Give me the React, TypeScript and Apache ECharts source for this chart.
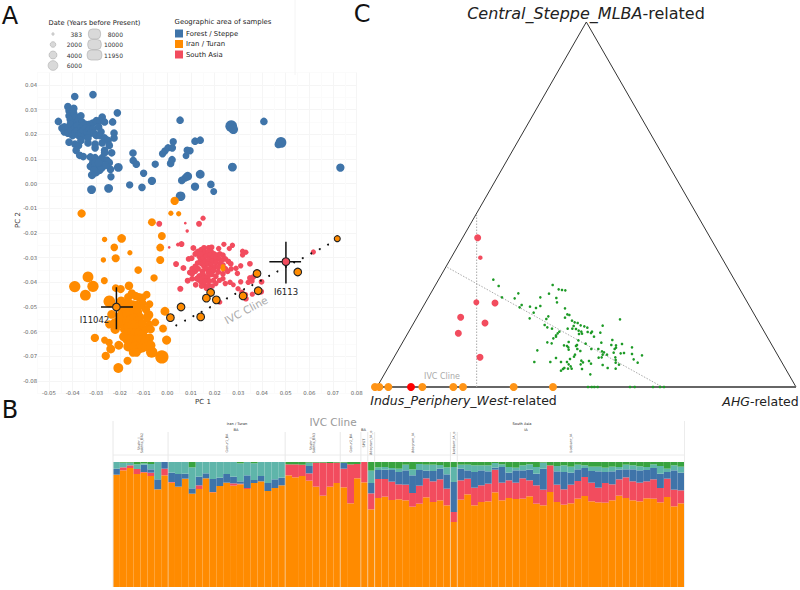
import React, { useEffect, useRef } from "react";
import * as echarts from "echarts";

type P = [number, number, number];

// Panel A: PC 1, PC 2, date (years before present)
const forestSteppe: P[] = [
  [-0.0391,0.0353,3000],[-0.0314,0.0361,3000],[-0.042,0.0312,3000],[-0.046,0.0252,3000],[-0.0211,0.0287,3000],[-0.0231,0.025,3000],
  [0.0054,0.0257,3000],[0.027,0.0233,7000],[0.0279,0.022,4500],[0.0408,0.0252,3000],[0.048,0.0167,6000],[0.0469,0.0159,3000],
  [0.0731,0.0065,3500],[0.0275,0.0067,4000],[0.0139,0.0038,4000],[0.0086,0.003,4000],[0.0075,0.0023,3000],[0.0061,0.0013,3000],
  [0.0117,-0.0012,3500],[0.0184,-0.0003,3000],[0.0196,-0.0032,2500],[0.0056,-0.0051,4800],[-0.0065,0.0011,3500],[-0.0107,-0.0015,3000],
  [-0.0159,-0.0005,2800],[-0.01,0.0042,2800],[-0.0248,-0.0019,4000],[-0.032,-0.0024,4000],[-0.0238,0.0028,2800],[-0.0207,0.0066,4000],
  [-0.0145,0.0124,3000],[-0.0144,0.0094,3000],[-0.0131,0.0079,3000],[-0.0051,0.0079,2800],[0.0014,0.0082,3000],[0.002,0.0097,3000],
  [-0.002,0.0121,2800],[-0.001,0.0132,2800],[0.0003,0.0145,2800],[0.0021,0.0145,3000],[0.0025,0.017,2800],[0.0117,0.0172,3000],
  [0.0139,0.0176,3000],[0.0084,0.0135,2800],[0.0096,0.0133,2800],[0.0079,0.0113,2400],
  [-0.0415,0.0295,3000],[-0.0415,0.0275,3000],[-0.041,0.026,3000],[-0.0395,0.0305,3000],[-0.0395,0.0285,3000],[-0.0385,0.027,3000],
  [-0.04,0.0245,3000],[-0.0385,0.0245,3000],[-0.0375,0.026,3000],[-0.0365,0.0275,3000],[-0.036,0.025,3000],[-0.0345,0.024,3000],
  [-0.033,0.024,3000],[-0.0315,0.0245,3000],[-0.03,0.0255,3000],[-0.0275,0.027,3000],[-0.0285,0.0255,3000],[-0.0265,0.025,3000],
  [-0.029,0.023,3000],[-0.028,0.021,3000],[-0.0445,0.0225,3000],[-0.0435,0.021,3000],[-0.0435,0.023,3000],[-0.042,0.0225,3000],
  [-0.042,0.0205,3000],[-0.041,0.024,3000],[-0.0405,0.0215,3000],[-0.04,0.0195,3000],[-0.039,0.0225,3000],[-0.039,0.0205,3000],
  [-0.038,0.0235,3000],[-0.038,0.0215,3000],[-0.0375,0.0195,3000],[-0.0365,0.0225,3000],[-0.0365,0.0205,3000],[-0.0355,0.0235,3000],
  [-0.0355,0.0215,3000],[-0.035,0.0195,3000],[-0.0345,0.0225,3000],[-0.034,0.021,3000],[-0.033,0.022,3000],[-0.0325,0.0205,3000],
  [-0.0315,0.022,3000],[-0.031,0.0205,3000],[-0.03,0.0195,3000],[-0.0285,0.0195,3000],[-0.0265,0.0185,3000],[-0.0225,0.0205,3000],
  [-0.0225,0.0185,3000],[-0.025,0.0175,3000],[-0.0415,0.0168,3000],[-0.039,0.016,3000],[-0.0375,0.0155,3000],[-0.0365,0.0175,3000],
  [-0.0335,0.0165,3000],[-0.0335,0.0185,3000],[-0.0305,0.016,3000],[-0.0305,0.0145,3000],[-0.0275,0.0165,3000],[-0.0245,0.0155,3000],
  [-0.0235,0.0125,3000],[-0.0265,0.0135,3000],[-0.0385,0.0135,3000],[-0.037,0.0115,3000],[-0.0355,0.011,3000],
  [-0.0325,0.0108,3000],[-0.0315,0.0085,3000],[-0.0305,0.0105,3000],[-0.0295,0.0095,3000],[-0.028,0.0095,3000],[-0.0275,0.0105,3000],
  [-0.0265,0.0125,3000],[-0.0255,0.0095,3000],[-0.0245,0.0085,3000],[-0.0325,0.007,3000],[-0.0315,0.0065,3000],[-0.0305,0.0075,3000],
  [-0.0295,0.006,3000],[-0.0285,0.0075,3000],[-0.0275,0.0065,3000],[-0.0285,0.0055,3000],[-0.03,0.0045,3000],[-0.031,0.0055,3000],
  [-0.0318,0.0035,3500],[-0.0305,0.0085,3000],[-0.029,0.0085,3000],[-0.024,0.0058,3000],[-0.025,0.0085,3000],[-0.026,0.0075,3000],
];

const iranTuran: P[] = [
  [0.0031,-0.007,3500],[-0.0362,-0.0121,3500],[0.0015,-0.012,1400],[0.0048,-0.0122,1400],[-0.0065,-0.0156,3200],[-0.0023,-0.0212,3200],
  [-0.0193,-0.0222,3800],[-0.0265,-0.0226,1500],[-0.0224,-0.0258,3000],[-0.003,-0.0259,3200],[-0.0158,-0.028,1400],[-0.0218,-0.0302,3300],
  [-0.027,-0.0309,1500],[-0.003,-0.0309,3300],[-0.0123,-0.035,3000],[-0.0335,-0.0378,6000],[-0.0056,-0.0382,2800],[-0.0266,-0.0393,2500],
  [-0.0391,-0.0417,6500],[-0.0314,-0.0416,6500],[-0.0346,-0.0452,6000],[-0.0162,-0.0414,3700],[-0.0197,-0.0427,3500],[-0.0218,-0.0423,3000],
  [-0.0245,-0.0477,7000],[-0.0087,-0.045,3000],[-0.0075,-0.0488,3000],[-0.001,-0.0517,4000],[-0.0079,-0.0532,4500],[-0.0051,-0.0562,3200],
  [-0.0076,-0.057,3000],[-0.0018,-0.0587,3200],[-0.0003,-0.0634,4200],[-0.0306,-0.0625,3500],[-0.0265,-0.0634,2500],[-0.0246,-0.0644,2800],
  [-0.026,-0.0698,3500],[-0.0239,-0.067,4000],[-0.0207,-0.0747,5000],[-0.0168,-0.0718,3300],[-0.0023,-0.0702,9000],[-0.0066,-0.0683,6500],
  [-0.0165,-0.046,3500],[-0.015,-0.0445,3500],[-0.0135,-0.0455,3500],[-0.012,-0.046,3500],[-0.0105,-0.0462,3500],[-0.018,-0.049,4500],
  [-0.0165,-0.048,3500],[-0.019,-0.052,4500],[-0.0175,-0.051,4500],[-0.016,-0.05,4500],[-0.0145,-0.049,4000],[-0.02,-0.054,4500],
  [-0.0185,-0.054,4500],[-0.017,-0.053,4500],[-0.0155,-0.052,4500],[-0.014,-0.0515,4500],[-0.0125,-0.052,4000],[-0.0115,-0.054,3500],
  [-0.0235,-0.053,4000],[-0.0245,-0.057,3500],[-0.022,-0.0565,5000],[-0.0205,-0.057,4500],[-0.0185,-0.0565,4500],[-0.017,-0.0555,4500],
  [-0.0155,-0.055,4500],[-0.014,-0.0545,4500],[-0.0125,-0.0555,4000],[-0.022,-0.059,4500],[-0.018,-0.059,4500],[-0.0165,-0.058,4500],
  [-0.015,-0.0575,4500],[-0.0135,-0.0575,4500],[-0.012,-0.058,4500],[-0.0105,-0.059,4000],[-0.0165,-0.0605,5000],[-0.015,-0.0605,4500],
  [-0.0135,-0.0605,4500],[-0.012,-0.0605,4500],[-0.0105,-0.061,4500],[-0.009,-0.059,3500],[-0.0185,-0.062,4000],[-0.017,-0.063,5000],
  [-0.0155,-0.063,4500],[-0.014,-0.0635,5000],[-0.0125,-0.0635,5000],[-0.011,-0.0635,4500],[-0.0095,-0.0635,3500],[-0.0205,-0.0655,4000],
  [-0.0165,-0.066,5000],[-0.015,-0.0665,4500],[-0.0135,-0.066,5000],[-0.012,-0.067,4500],[-0.0105,-0.0665,4500],[-0.009,-0.066,4500],
  [-0.0145,-0.0685,3500],[-0.013,-0.0685,3500],[0.0235,-0.0345,1400],[0.0235,-0.0335,1000],
  [-0.0105,-0.0485,3500],[-0.009,-0.051,3500],[-0.0085,-0.0545,3500],[-0.007,-0.059,3500],[-0.0075,-0.0625,4000],[-0.007,-0.0655,4500],
  [-0.0195,-0.0475,4000],[-0.0105,-0.0565,3500],[-0.0115,-0.0495,3500],[-0.013,-0.049,3500],
];

const southAsia: P[] = [
  [-0.0034,-0.0163,1800],[0.0151,-0.014,1400],[0.0134,-0.0163,1800],[0.0084,-0.0192,600],[0.0008,-0.0258,383],[0.0076,-0.016,383],
  [0.006,-0.0245,1800],[0.0045,-0.0247,800],[0.011,-0.0261,1800],[0.0037,-0.0326,1800],[0.0068,-0.0342,1800],[0.0086,-0.0393,1800],
  [0.0055,-0.0426,1900],[0.0617,-0.0277,1400],[0.0217,-0.0263,1500],[0.0239,-0.0246,1400],[0.0275,-0.025,1500],[0.0262,-0.0263,1400],
  [0.0318,-0.0274,1500],[0.0332,-0.0278,1400],[0.0318,-0.0289,1500],[0.0349,-0.0325,1700],[0.031,-0.0333,1500],[0.029,-0.0343,1500],
  [0.0296,-0.0364,1500],[0.031,-0.0398,1500],[0.0279,-0.041,1200],[0.0299,-0.0426,1500],[0.0315,-0.044,1500],[0.033,-0.045,1500],
  [0.0332,-0.0466,1700],[0.0359,-0.0448,1400],[0.0349,-0.0382,1700],[0.0363,-0.0378,1700],[0.0342,-0.04,1500],[0.0398,-0.0398,1700],
  [0.0396,-0.0438,1900],[0.0222,-0.048,1300],[0.0357,-0.0395,1700],[0.0245,-0.0405,1500],[0.0265,-0.04,1500],
  [0.0095,-0.036,1700],[0.0105,-0.0345,1700],[0.0118,-0.0355,1700],[0.013,-0.0345,1700],[0.0118,-0.0335,1700],[0.009,-0.0305,1700],
  [0.0103,-0.0302,1700],[0.0118,-0.0285,1700],[0.013,-0.0275,1700],[0.0143,-0.0268,1700],[0.0155,-0.026,1700],[0.0175,-0.026,1700],
  [0.0187,-0.0258,1700],[0.0135,-0.0295,1700],[0.0148,-0.0288,1700],[0.016,-0.0278,1700],[0.0173,-0.0275,1700],[0.0185,-0.0275,1700],
  [0.0198,-0.0285,1700],[0.021,-0.029,1700],[0.0222,-0.0285,1700],[0.0235,-0.029,1700],[0.0245,-0.0305,1700],[0.0258,-0.0315,1700],
  [0.0268,-0.0325,1700],[0.014,-0.031,1700],[0.0153,-0.03,1700],[0.0165,-0.0293,1700],[0.018,-0.029,1700],[0.0193,-0.0298,1700],
  [0.0205,-0.0305,1700],[0.0218,-0.0305,1700],[0.023,-0.031,1700],[0.0128,-0.0322,1700],[0.0145,-0.0325,1700],[0.016,-0.0315,1700],
  [0.0175,-0.0308,1700],[0.019,-0.0315,1700],[0.0205,-0.032,1700],[0.0222,-0.0325,1700],[0.0235,-0.033,1700],[0.0155,-0.0335,1700],
  [0.017,-0.0325,1700],[0.0185,-0.033,1700],[0.02,-0.0338,1700],[0.0215,-0.034,1700],[0.0165,-0.0345,1700],[0.018,-0.0345,1700],
  [0.0195,-0.0352,1700],[0.0215,-0.0358,1700],[0.0148,-0.0355,1700],[0.0173,-0.0358,1700],[0.0188,-0.0368,1700],[0.0205,-0.0375,1700],
  [0.0135,-0.0375,2000],[0.015,-0.037,2200],[0.0135,-0.039,2000],[0.0152,-0.0385,2200],[0.017,-0.0378,2000],[0.0125,-0.0385,2000],
  [0.0145,-0.0398,2200],[0.016,-0.0395,2000],[0.0178,-0.0395,1700],[0.0195,-0.0392,1500],[0.022,-0.0392,1500],[0.0165,-0.0425,1500],
  [0.0155,-0.0412,1500],[0.019,-0.0415,1500],[0.0175,-0.0412,1500],[0.0205,-0.0405,1500],
  [0.0105,-0.0365,1700],[0.012,-0.041,1700],[0.0105,-0.0385,1700],[0.0235,-0.0365,1700],[0.0245,-0.0345,1700],[0.0255,-0.0355,1700],
  [0.027,-0.0345,1500],[0.0125,-0.028,1700],[0.0235,-0.0385,1500],[0.017,-0.0415,1500],[0.0145,-0.0415,1700],[0.014,-0.0285,1700],
];

const cline: P[] = [
  [0.0718,-0.0223,1800],[0.0551,-0.0358,3000],[0.0379,-0.0364,3000],[0.0384,-0.0434,3000],[0.032,-0.0455,3000],[0.0183,-0.0441,3000],
  [0.0165,-0.0464,3000],[0.0207,-0.0471,3000],[0.0058,-0.05,3000],[0.0013,-0.0543,3000],[0.0141,-0.054,3000],[-0.0215,-0.05,3000],
];
const clineFocus: P[] = [[0.0501,-0.0316,3000]];
const clineDots: number[][] = [
  [0.0038,-0.0574],[0.0075,-0.0555],[0.011,-0.0537],[0.0145,-0.052],[0.018,-0.0501],[0.0217,-0.0484],[0.0252,-0.0465],[0.0287,-0.0447],
  [0.0324,-0.0428],[0.0359,-0.0411],[0.0395,-0.0393],[0.043,-0.0374],[0.0465,-0.0356],[0.0501,-0.0337],[0.0536,-0.0319],[0.0572,-0.0302],
  [0.0608,-0.0283],[0.0644,-0.0265],[0.0679,-0.0247],[0.0715,-0.0229],
];
const errorBars: number[][][] = [
  [[-0.028,-0.05],[-0.0145,-0.05]],[[-0.0215,-0.042],[-0.0215,-0.059]],
  [[0.0431,-0.0316],[0.0565,-0.0316]],[[0.0501,-0.0235],[0.0501,-0.0405]],
];
const sizeKeys = ["383", "2000", "4000", "6000", "8000", "10000", "11950"];

// Panel B: stacked ancestry, parts of 375 per sample
const groups = [
  { name: "Shahr_I_Sokhta_BA2", n: 8 }, { name: "Gonur1_BA", n: 17 }, { name: "Shahr_I_Sokhta_BA3", n: 8 }, { name: "Gonur2_BA", n: 3 },
  { name: "SPGT", n: 1 }, { name: "Udegram_IA_o", n: 1 }, { name: "Udegram_IA", n: 11 }, { name: "Loebanr_IA_o", n: 1 }, { name: "Loebanr_IA", n: 33 },
];
const barOrange = [337,350,357,339,343,333,293,335, 313,301,325,280,294,326,284,303,313,304,308,294,312,317,288,297,305, 335,329,333,319,301,274,301,312, 299,251,326, 314, 233, 267,271,261,263,260,241,250,269,255,260,245, 195, 262,278,245,255,257,284,260,267,264,265,272,250,245,285,255,247,251,265,273,257,254,253,260,274,267,260,257,266,265,254,270,242,251];
const barRed = [0,9,8,15,2,10,0,20, 2,0,0,0,11,0,1,0,0,7,2,3,0,0,0,0,0, 33,39,34,22,72,99,71,61, 56,117,43, 61, 48, 57,53,55,45,47,41,54,57,62,63,50, 30, 58,47,53,50,53,68,53,53,49,61,48,55,47,80,52,46,56,53,57,56,44,59,48,49,62,57,56,51,58,43,55,50,39];
const barBlue = [18,0,0,0,22,10,30,20, 28,38,15,16,26,15,39,25,26,20,7,38,9,16,24,26,23, 0,0,0,22,0,0,0,0, 18,0,0, 0, 31, 27,28,35,37,43,53,47,23,31,32,43, 90, 35,25,47,45,37,6,47,23,37,24,32,35,63,0,40,52,36,35,27,35,49,33,39,29,24,36,37,34,34,43,20,58,53];
const barTeal = [20,14,8,14,4,16,52,0, 32,36,35,63,44,34,51,47,36,44,54,40,50,42,63,52,47, 0,0,0,10,0,0,0,0, 0,0,0, 0, 37, 8,8,6,10,17,18,18,18,19,11,21, 45, 12,17,20,15,18,14,8,17,8,15,16,20,18,0,16,20,18,14,8,13,14,13,14,8,14,12,12,9,11,23,10,15,18];
const barGreen = [0,2,2,7,4,6,0,0, 0,0,0,16,0,0,0,0,0,0,4,0,4,0,0,0,0, 7,7,8,2,2,2,3,2, 2,7,6, 0, 26, 16,15,18,20,8,22,6,8,8,9,16, 15, 8,8,10,10,10,3,7,15,17,10,7,15,2,10,12,10,14,8,10,14,14,17,14,15,8,10,13,15,7,12,20,10,14];
const barCategories = groups.flatMap((g) => Array.from({ length: g.n }, (_, i) => `${g.name} ${i + 1}`));

// Panel C: positions in triangle units (base 1257, height 1095)
const triangleEdge = [[0,0],[628,1095],[1257,0]];
const triangleBase = [[0,0],[1257,0]];
const guideVertical = [[299,0],[299,516]];
const guideCline = [[211,359],[854,1]];
const ternaryRed = [[302,448],[310,388],[298,254],[354,252],[251,209],[324,192],[244,161],[309,89]];
const ternaryRedSize = [7,4.5,6,7,7,7,7,7];
const ternaryOrange = [[-6,0],[7,0],[34,0],[136,0],[229,0],[258,0],[410,0],[528,0]];
const ternaryFocus = [[102,0]];
const ternaryGreen = [
  [349,322],[365,303],[375,269],[413,266],[424,281],[434,246],[428,239],[459,241],[477,237],[490,243],[490,269],[516,280],[527,306],[545,293],[555,291],[565,290],
  [538,267],[540,254],[564,236],[470,223],[458,206],[514,212],[508,204],[503,186],[511,179],[525,175],[564,208],[571,218],[577,216],[585,199],[593,194],[602,192],
  [611,185],[622,182],[631,178],[677,184],[729,203],[590,183],[586,175],[572,175],[597,174],[605,169],[613,166],[606,159],[615,160],[632,165],[642,162],[645,166],
  [651,151],[670,163],[547,166],[542,161],[537,155],[537,151],[529,146],[511,134],[524,131],[575,135],[604,140],[626,130],[561,125],[570,123],[574,119],[575,112],
  [597,123],[600,126],[601,114],[610,108],[643,114],[664,114],[673,133],[706,141],[717,125],[735,129],[703,126],[717,118],[713,114],[675,107],[681,104],[677,97],
  [690,97],[710,103],[731,101],[741,102],[765,119],[765,99],[770,83],[782,73],[795,95],[481,110],[472,75],[520,75],[537,87],[552,75],[579,84],[570,75],
  [575,68],[581,62],[573,55],[584,55],[562,57],[558,54],[552,49],[594,97],[591,91],[613,79],[618,74],[611,68],[615,54],[636,78],[642,70],[665,88],
  [674,89],[677,66],[692,57],[715,89],[716,81],[716,73],[726,67],[716,55],[640,38],
  [633,0],[644,0],[652,0],[662,0],[759,0],[773,0],[828,0],[849,0],[861,0],
];

const FONT = "'DejaVu Sans', sans-serif";
const BLUE = "#3f74a9", ORANGE = "#ff8b00", RED = "#f24c5e", TEAL = "#5fb5aa", GREEN = "#38a33f";
const dateSize = (v: number[]) => 0.14 * Math.sqrt(v[2]);

const BAR_LEFT = 113, BAR_RIGHT = 684.5, BAR_TOP = 462, BAR_BOTTOM = 587;

function label(text: string, x: number, y: number, size: number, extra: any = {}) {
  return { type: "text", x, y, silent: true, z: 20, style: { text, x: 0, y: 0, fontFamily: FONT, fontSize: size, fill: "#222", textAlign: "center", textVerticalAlign: "middle", ...extra.style }, ...extra.props };
}
function vline(x: number, y1: number, y2: number, stroke: string, w = 1) {
  return { type: "line", silent: true, z: 15, shape: { x1: x, y1, x2: x, y2 }, style: { stroke, lineWidth: w } };
}
function hline(x1: number, x2: number, y: number, stroke: string, w = 1) {
  return { type: "line", silent: true, z: 15, shape: { x1, y1: y, x2, y2: y }, style: { stroke, lineWidth: w } };
}

export default function App() {
  const ref = useRef<HTMLDivElement>(null);
  useEffect(() => {
    const chart = echarts.init(ref.current!, null, { renderer: "svg" });
    const barW = (BAR_RIGHT - BAR_LEFT) / barCategories.length;
    const bounds: number[] = [BAR_LEFT];
    groups.forEach((g) => bounds.push(bounds[bounds.length - 1] + g.n * barW));
    const centers = groups.map((_, i) => (bounds[i] + bounds[i + 1]) / 2);

    const keyPos: [number, number][] = [[53,34],[53,44.5],[53,55],[53,65.5],[94.5,34],[94.5,44.5],[94.5,55]];
    const keyShapes = sizeKeys.map((k, i) => {
      const d = 0.125 * Math.sqrt(Number(k));
      const [cx, cy] = keyPos[i];
      const style = { fill: "#d9d9d9", stroke: "#b5b5b5", lineWidth: 0.7 };
      return d > 11
        ? { type: "rect", silent: true, z: 15, shape: { x: cx - d / 2 - 0.5, y: cy - 5, width: d + 1, height: 10, r: 4 }, style }
        : { type: "circle", silent: true, z: 15, shape: { cx, cy, r: d / 2 }, style };
    });
    const keyLabels = sizeKeys.map((k, i) => label(k, i < 4 ? 82 : 123, keyPos[i][1], 6, { style: { textAlign: "right", fill: "#333" } }));

    const graphic: any[] = [
      label("A", 10, 16, 24, { style: { fill: "#111" } }),
      label("B", 10, 410, 24, { style: { fill: "#111" } }),
      label("C", 362, 14, 24, { style: { fill: "#111" } }),
      label("Date (Years before Present)", 94.5, 23, 6.7),
      label("Geographic area of samples", 223, 22, 6.9),
      ...keyShapes,
      ...keyLabels,
      vline(295, 0, 75, "#f4f4f4"),
      label("I11042", 94.5, 320, 8.5),
      label("I6113", 286, 292, 8.5),
      label("IVC Cline", 246, 310, 10.5, { style: { fill: "#aaa" }, props: { rotation: (28 * Math.PI) / 180, originX: 0, originY: 0 } }),
      label("PC 1", 203, 402, 7, { style: { fill: "#333" } }),
      label("PC 2", 18, 220, 7, { style: { fill: "#333" }, props: { rotation: Math.PI / 2 } }),

      label("IVC Cline", 333, 422, 10.5, { style: { fill: "#999" } }),
      label("Iran / Turan", 237, 424, 3.6),
      label("BA", 236, 429.5, 3.6),
      label("BA", 363.5, 429.5, 3.6),
      label("South Asia", 522, 424, 3.6),
      label("IA", 526, 429.5, 3.6),
      ...groups.map((g, i) =>
        label(g.name.replace("I_Sokhta", "I_\nSokhta"), centers[i], 443, 3.4, { style: { fill: "#555" }, props: { rotation: Math.PI / 2 } })
      ),
      hline(BAR_LEFT, BAR_RIGHT, 455, "#ececec"),
      vline(BAR_LEFT, 421, BAR_BOTTOM, "#e8e8e8"),
      vline(BAR_RIGHT, 421, BAR_BOTTOM, "#ececec"),
      ...bounds.slice(1, -1).flatMap((x) => [vline(x, 432, 461, "#e8e8e8"), vline(x, 461, BAR_BOTTOM, "rgba(240,235,230,0.5)")]),

      { type: "text", silent: true, z: 20, x: 586, y: 13, style: { text: "{i|Central_Steppe_MLBA}{n|-related}", textAlign: "center", textVerticalAlign: "middle", rich: { i: { fontFamily: FONT, fontSize: 16, fontStyle: "italic", fill: "#222" }, n: { fontFamily: FONT, fontSize: 16, fill: "#222" } } } },
      { type: "text", silent: true, z: 20, x: 463.5, y: 400, style: { text: "{i|Indus_Periphery_West}{n|-related}", textAlign: "center", textVerticalAlign: "middle", rich: { i: { fontFamily: FONT, fontSize: 12.5, fontStyle: "italic", fill: "#222" }, n: { fontFamily: FONT, fontSize: 12.5, fill: "#222" } } } },
      { type: "text", silent: true, z: 20, x: 760.5, y: 401, style: { text: "{i|AHG}{n|-related}", textAlign: "center", textVerticalAlign: "middle", rich: { i: { fontFamily: FONT, fontSize: 12.5, fontStyle: "italic", fill: "#222" }, n: { fontFamily: FONT, fontSize: 12.5, fill: "#222" } } } },
      label("IVC Cline", 442, 376, 8, { style: { fill: "#aaa" } }),
    ];

    const pct = (name: string, data: number[], color: string) => ({
      name, type: "bar", stack: "ancestry", xAxisIndex: 1, yAxisIndex: 1, data, barWidth: "100%", itemStyle: { color },
    });
    const scatterA = (name: string, data: P[], color: string, z: number) => ({
      name, type: "scatter", xAxisIndex: 0, yAxisIndex: 0, data, symbolSize: dateSize, itemStyle: { color, opacity: 1 }, z, clip: false,
    });
    const tLine = (name: string, data: number[][], stroke: string, width: number, dash?: any) => ({
      name, type: "line", xAxisIndex: 2, yAxisIndex: 2, data, showSymbol: false, symbol: "none", silent: true, clip: false,
      lineStyle: { color: stroke, width, type: dash ?? "solid" }, z: 2,
    });

    chart.setOption({
      animation: false,
      backgroundColor: "#fff",
      legend: {
        data: ["Forest / Steppe", "Iran / Turan", "South Asia"],
        orient: "vertical", left: 175, top: 29.5, icon: "rect", itemWidth: 8, itemHeight: 8, itemGap: 2.5, padding: 0,
        selectedMode: false,
        textStyle: { fontFamily: FONT, fontSize: 6.9, color: "#222", padding: [0, 0, 0, -2] },
      },
      grid: [
        { left: 37.1, top: 72.6, width: 319.6, height: 320.8 },
        { left: BAR_LEFT, top: BAR_TOP, width: BAR_RIGHT - BAR_LEFT, height: BAR_BOTTOM - BAR_TOP },
        { left: 377, top: 22, width: 419, height: 365 },
      ],
      xAxis: [
        {
          type: "value", gridIndex: 0, min: -0.055, max: 0.08, interval: 0.005,
          axisLine: { show: false }, axisTick: { show: false },
          splitLine: { show: true, lineStyle: { color: ["#fbfbfb", "#f5f5f5"], width: 1 } },
          axisLabel: { fontFamily: FONT, fontSize: 5.4, color: "#666", margin: -3, showMinLabel: false, formatter: (v: number) => (Math.round(v * 1000) % 10 === 0 ? v.toFixed(2) : "") },
        },
        { type: "category", gridIndex: 1, data: barCategories, axisLine: { show: false }, axisTick: { show: false }, axisLabel: { show: false }, splitLine: { show: false } },
        { type: "value", gridIndex: 2, min: 0, max: 1257, show: false, splitLine: { show: false } },
      ],
      yAxis: [
        {
          type: "value", gridIndex: 0, min: -0.085, max: 0.045, interval: 0.005,
          axisLine: { show: false }, axisTick: { show: false },
          splitLine: { show: true, lineStyle: { color: ["#fbfbfb", "#f5f5f5"], width: 1 } },
          axisLabel: { fontFamily: FONT, fontSize: 5.4, color: "#666", margin: 0, formatter: (v: number) => (Math.round(v * 1000) % 10 === 0 ? v.toFixed(2) : "") },
        },
        { type: "value", gridIndex: 1, min: 0, max: 375, show: false, splitLine: { show: false } },
        { type: "value", gridIndex: 2, min: 0, max: 1095, show: false, splitLine: { show: false } },
      ],
      series: [
        scatterA("Forest / Steppe", forestSteppe, BLUE, 3),
        scatterA("South Asia", southAsia, RED, 4),
        scatterA("Iran / Turan", iranTuran, ORANGE, 5),
        { name: "Cline model", type: "scatter", xAxisIndex: 0, yAxisIndex: 0, data: clineDots, symbolSize: 2, itemStyle: { color: "#111", opacity: 1 }, z: 6 },
        ...errorBars.map((d, i) => ({ name: `Error ${i + 1}`, type: "line", xAxisIndex: 0, yAxisIndex: 0, data: d, symbol: "none", silent: true, lineStyle: { color: "#111", width: 1.5 }, z: 7 })),
        { ...scatterA("IVC samples", cline, ORANGE, 8), itemStyle: { color: ORANGE, borderColor: "#222", borderWidth: 1.1, opacity: 1 } },
        { ...scatterA("I6113 sample", clineFocus, RED, 8), itemStyle: { color: RED, borderColor: "#222", borderWidth: 1.1, opacity: 1 } },

        pct("Orange component", barOrange, ORANGE),
        pct("Red component", barRed, RED),
        pct("Blue component", barBlue, BLUE),
        pct("Teal component", barTeal, TEAL),
        pct("Green component", barGreen, GREEN),

        tLine("Triangle", triangleEdge, "#333", 1),
        tLine("Triangle base", triangleBase, "#666", 2),
        tLine("Guide vertical", guideVertical, "#aaa", 1, [1.5, 1.5]),
        tLine("Guide cline", guideCline, "#aaa", 1, [1.5, 1.5]),
        { name: "Ternary green", type: "scatter", xAxisIndex: 2, yAxisIndex: 2, data: ternaryGreen, symbolSize: 2.6, itemStyle: { color: "#1d9a26", opacity: 1 }, z: 3, clip: false },
        { name: "Ternary red", type: "scatter", xAxisIndex: 2, yAxisIndex: 2, data: ternaryRed, symbolSize: (_: any, p: any) => ternaryRedSize[p.dataIndex], itemStyle: { color: RED, opacity: 1 }, z: 3, clip: false },
        { name: "Ternary orange", type: "scatter", xAxisIndex: 2, yAxisIndex: 2, data: ternaryOrange, symbolSize: 8, itemStyle: { color: "#ff9416", opacity: 1 }, z: 3, clip: false },
        { name: "Ternary focus", type: "scatter", xAxisIndex: 2, yAxisIndex: 2, data: ternaryFocus, symbolSize: 8, itemStyle: { color: "#ff0000", opacity: 1 }, z: 3, clip: false },
      ],
      graphic,
    });
    return () => chart.dispose();
  }, []);
  return <div ref={ref} style={{ position: "absolute", left: 0, top: 0, width: 800, height: 590 }} />;
}
